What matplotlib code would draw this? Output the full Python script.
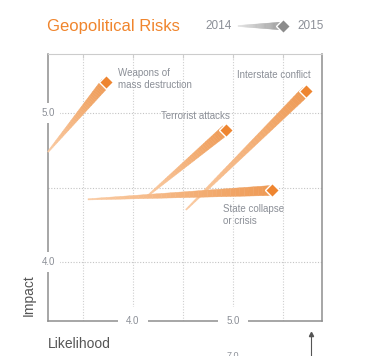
import numpy as np
import matplotlib
matplotlib.use("Agg")
import matplotlib.pyplot as plt
from matplotlib.patches import Polygon
from matplotlib.colors import to_rgb

plt.rcParams['font.family'] = ['Liberation Sans', 'DejaVu Sans']

# risk data: likelihood (x) and impact (y) in 2014 and 2015
risks = ["Weapons of\nmass destruction", "Terrorist attacks",
         "Interstate conflict", "State collapse\nor crisis"]
like_2014 = [3.15, 4.14, 4.53, 3.55]
impact_2014 = [4.74, 4.44, 4.35, 4.42]
like_2015 = [3.73, 4.93, 5.73, 5.39]
impact_2015 = [5.21, 4.89, 5.15, 4.48]

x_ticks = [4.0, 5.0]
y_ticks = [4.0, 5.0]
x_grid = [3.5, 4.0, 4.5, 5.0, 5.5]
y_grid = [4.0, 4.5, 5.0]

ORANGE = "#EE8530"
LIGHT = "#FACBA3"
DARK = "#EE9A55"
GRAY = "#8B8F97"

fig = plt.figure(figsize=(3.78, 3.56), dpi=100)
ax = fig.add_axes([48 / 378, 35 / 356, 274 / 378, 267 / 356])
ax.set_xlim(3.15, 5.89)
ax.set_ylim(3.60, 5.40)


def wedge(p0, p1, w0, w1, c0, c1, target, n=40, zorder=3):
    # p0, p1 in display pixels; drawn as gradient strips
    p0 = np.array(p0, float)
    p1 = np.array(p1, float)
    d = p1 - p0
    d = d / np.hypot(*d)
    nrm = np.array([-d[1], d[0]])
    c0 = np.array(to_rgb(c0))
    c1 = np.array(to_rgb(c1))
    inv = target.inverted()
    for i in range(n):
        t0, t1 = i / n, (i + 1) / n
        a = p0 + (p1 - p0) * t0
        b = p0 + (p1 - p0) * t1
        wa = (w0 + (w1 - w0) * t0) / 2
        wb = (w0 + (w1 - w0) * t1) / 2
        pts = np.array([a + nrm * wa, b + nrm * wb, b - nrm * wb, a - nrm * wa])
        col = c0 + (c1 - c0) * (t0 + t1) / 2
        poly = Polygon(inv.transform(pts), closed=True, facecolor=col,
                       edgecolor=col, linewidth=0.3, transform=target,
                       zorder=zorder, clip_on=False)
        if target is fig.transFigure:
            fig.add_artist(poly)
        else:
            ax.add_patch(poly)


# grid
for gx in x_grid:
    ax.axvline(gx, color="#cfcfcf", lw=0.8, ls=(0, (1, 1.5)), zorder=1)
for gy in y_grid:
    ax.axhline(gy, color="#c4c4c4", lw=0.8, ls=(0, (1, 1.5)), zorder=1)

# spines
for s in ["left", "bottom", "right"]:
    ax.spines[s].set_color("#8e8e8e")
    ax.spines[s].set_linewidth(1.1)
ax.spines["top"].set_color("#cccccc")
ax.spines["top"].set_linewidth(0.8)
ax.set_xticks(x_grid)
ax.set_yticks([])
ax.tick_params(axis="x", bottom=False, top=True, labelbottom=False,
               direction="in", length=3, color="#cccccc", width=0.8)

for v in x_ticks:
    ax.text(v, 0, f"{v:.1f}", transform=ax.get_xaxis_transform(),
            ha="center", va="center", fontsize=7, color=GRAY, zorder=6,
            clip_on=False,
            bbox=dict(boxstyle="square,pad=0.9", fc="white", ec="none"))
for v in y_ticks:
    ax.text(0, v, f"{v:.1f}", transform=ax.get_yaxis_transform(),
            ha="center", va="center", fontsize=7, color=GRAY, zorder=6,
            clip_on=False,
            bbox=dict(boxstyle="square,pad=0.5", fc="white", ec="none"))

# risk wedges
for i in range(len(risks)):
    p0 = ax.transData.transform((like_2014[i], impact_2014[i]))
    p1 = ax.transData.transform((like_2015[i], impact_2015[i]))
    wedge(p0, p1, 1.2, 10, LIGHT, DARK, ax.transData)
ax.plot(like_2015, impact_2015, ls="none", marker="D", ms=7, mfc=ORANGE,
        mec="white", mew=1.0, zorder=5, clip_on=False)

# labels (top-left corner in pixels)
lab_pos = [(118, 68), (161, 111), (237, 70), (223, 204)]
for name, (px, py) in zip(risks, lab_pos):
    fig.text(px / 378, 1 - py / 356, name, fontsize=7, color=GRAY,
             ha="left", va="top", linespacing=1.3)

# title and legend
fig.text(47 / 378, 1 - 26 / 356, "Geopolitical Risks", fontsize=12,
         color="#F0852D", ha="left", va="center")
fig.text(205 / 378, 1 - 26 / 356, "2014", fontsize=8.5, color=GRAY,
         ha="left", va="center")
fig.text(297 / 378, 1 - 26 / 356, "2015", fontsize=8.5, color=GRAY,
         ha="left", va="center")
H = 356
wedge((238, H - 26), (283, H - 26), 1.0, 8, "#e4e4e4", "#9c9c9c",
      fig.transFigure)
fig.add_artist(plt.Line2D([283 / 378], [1 - 26 / 356], marker="D", ms=7,
                          mfc="#8c8c8c", mec="white", mew=1.0, zorder=6,
                          transform=fig.transFigure))

# axis titles
fig.text(29 / 378, 1 - 295 / 356, "Impact", rotation=90, fontsize=10,
         color="#555555", ha="center", va="center")
fig.text(48 / 378, 1 - 344 / 356, "Likelihood", fontsize=10,
         color="#555555", ha="left", va="center")
fig.text(233 / 378, 1 - 355 / 356, "7.0", fontsize=6.5, color=GRAY,
         ha="center", va="center")
fig.add_artist(plt.Line2D([311 / 378, 311 / 378], [0, 1 - 334 / 356],
                          color="#555555", lw=0.8, transform=fig.transFigure))
fig.add_artist(plt.Line2D([311 / 378], [1 - 334 / 356], marker="^", ms=3,
                          color="#555555", transform=fig.transFigure))

fig.savefig("out.png", dpi=100)
